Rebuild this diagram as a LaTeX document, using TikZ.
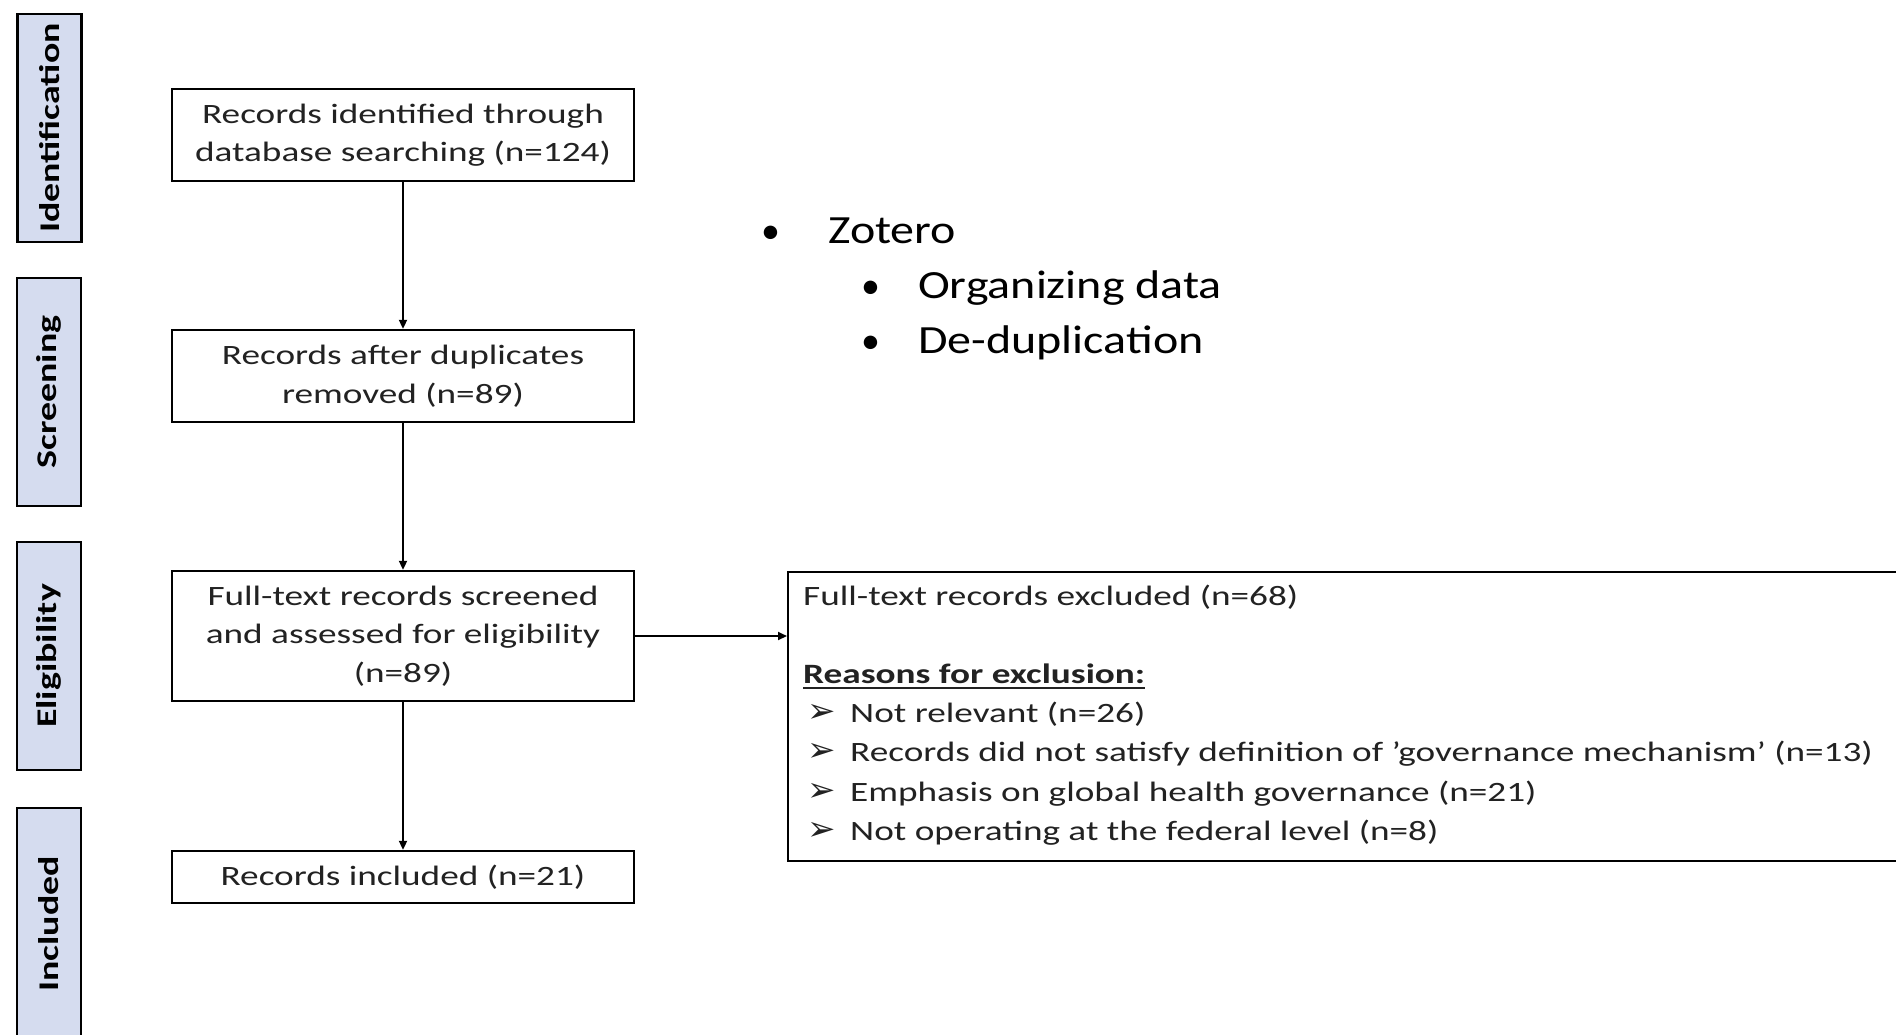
\documentclass[tikz,border=0pt]{standalone}
\usepackage{fontspec}
\setmainfont{Carlito}
\newfontfamily\boxfont{Carlito}[FakeStretch=1.33]
\newfontfamily\listfont{Carlito}[FakeStretch=1.2]
\newfontfamily\dingfont{DejaVu Sans}
\usetikzlibrary{arrows.meta}
\definecolor{stagefill}{HTML}{D5DCEF}
\definecolor{inktext}{HTML}{222222}
% arrow bullet used in the list of exclusion reasons
\newcommand{\exbullet}{\makebox[47pt][l]{\hspace{4pt}{\dingfont\fontsize{34}{34}\selectfont ➢}}}
\newcommand{\lbullet}[1]{\makebox[#1][l]{{\setmainfont{Carlito}\fontsize{38}{38}\selectfont •}}}

\begin{document}
\begin{tikzpicture}[x=1pt,y=-1pt,
  stage/.style={draw=black, line width=2.4pt, fill=stagefill, rotate=90,
    minimum width=228pt, minimum height=64pt, inner sep=0pt,
    font=\boxfont\bfseries\fontsize{28.5}{30}\selectfont},
  flowbox/.style={draw=black, line width=2.4pt, minimum width=462pt, inner sep=0pt,
    align=center, text=inktext, font=\boxfont\fontsize{28}{38.5}\selectfont},
  flow/.style={line width=2pt, -{Triangle[length=9pt,width=8pt]}},
  exline/.style={anchor=base west, inner sep=0pt, text=inktext,
    font=\boxfont\fontsize{28}{39}\selectfont},
  listline/.style={anchor=base west, inner sep=0pt, text=black,
    font=\listfont\fontsize{40}{55}\selectfont}
]
\fill[white] (0,0) rectangle (1896,1034);
\useasboundingbox (0,0) rectangle (1896,1034);

% stage labels on the left
\node[stage] (sId)   at (49.5,128) {Identification};
\node[stage] (sScr)  at (49,392)   {Screening};
\node[stage] (sElig) at (49,656)   {Eligibility};
\node[stage, minimum width=232pt] (sInc) at (49,924) {Included};

% main flow
\node[flowbox, minimum height=92pt]  (b1) at (403,135) {Records identified through\\database searching (n=124)};
\node[flowbox, minimum height=92pt]  (b2) at (403,376) {Records after duplicates\\removed (n=89)};
\node[flowbox, minimum height=130pt] (b3) at (403,636) {Full-text records screened\\and assessed for eligibility\\(n=89)};
\node[flowbox, minimum height=52pt]  (b4) at (403,877) {Records included (n=21)};

% exclusion box
\node[draw=black, line width=2.4pt, anchor=north west, inner sep=0pt,
      minimum width=1130pt, minimum height=289pt] (excl) at (787,571) {};

\draw[flow] (b1) -- (b2);
\draw[flow] (b2) -- (b3);
\draw[flow] (b3) -- (b4);
\draw[flow] (b3.east) -- (b3.east -| excl.west);

% exclusion text
\node[exline] (ex0) at (803,605) {Full-text records excluded (n=68)};
\node[exline, font=\boxfont\bfseries\fontsize{28}{39}\selectfont] (ex1) at (803,683) {Reasons for exclusion:};
\draw[line width=2.6pt, inktext] ([yshift=-5pt]ex1.base west) -- ([yshift=-5pt]ex1.base east);
\node[exline] (ex2) at (803,722)   {\exbullet Not relevant (n=26)};
\node[exline] (ex3) at (803,761.5) {\exbullet Records did not satisfy definition of ’governance mechanism’ (n=13)};
\node[exline] (ex4) at (803,801)   {\exbullet Emphasis on global health governance (n=21)};
\node[exline] (ex5) at (803,840.5) {\exbullet Not operating at the federal level (n=8)};

% tools note
\node[listline] (z0) at (761,243) {\lbullet{67pt}Zotero};
\node[listline] (z1) at (861,298) {\lbullet{57pt}Organizing data};
\node[listline] (z2) at (861,353) {\lbullet{57pt}De-duplication};
\end{tikzpicture}
\end{document}
